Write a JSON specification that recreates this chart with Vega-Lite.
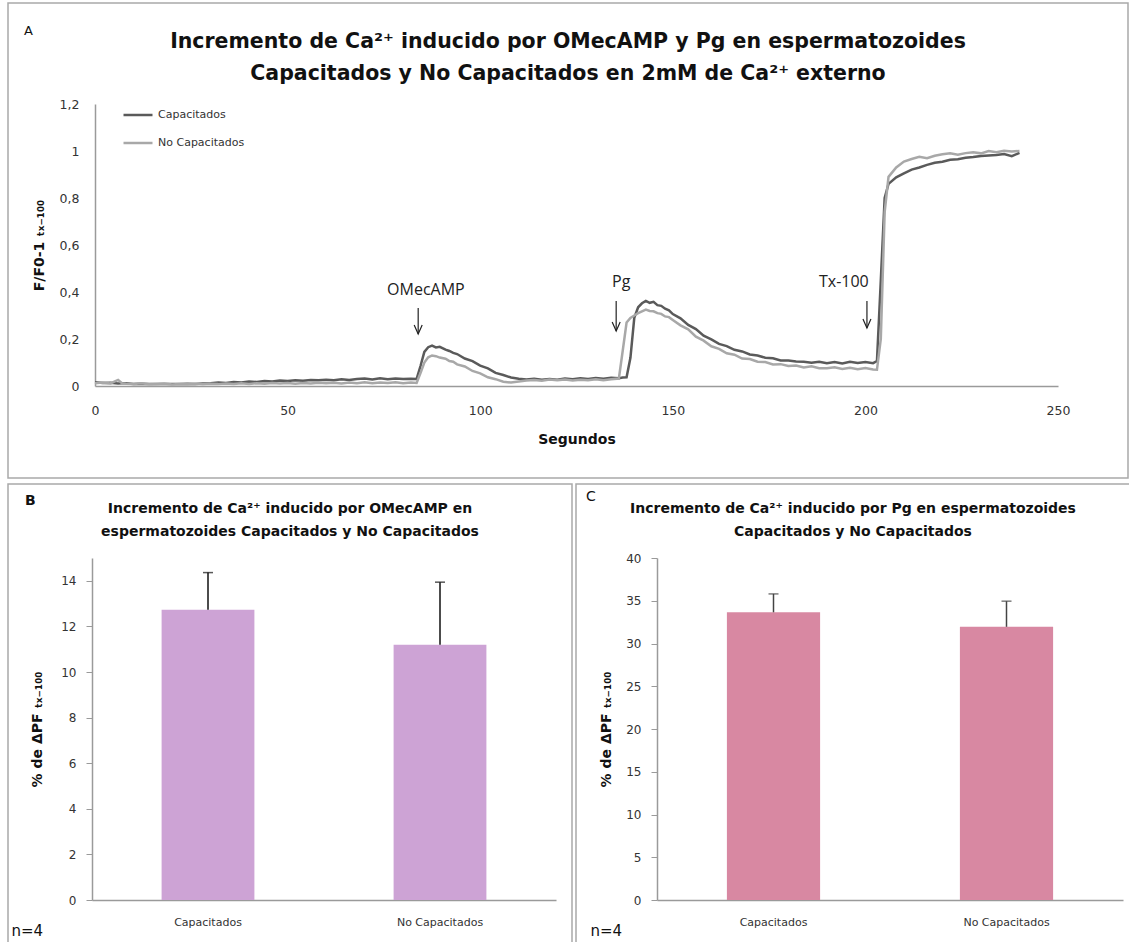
{
  "$schema": "https://vega.github.io/schema/vega-lite/v6.json",
  "padding": {"left": 7, "top": 2, "right": 0, "bottom": 0},
  "background": "white",
  "config": {
    "view": {"stroke": "#a9a9a9", "strokeWidth": 1.5},
    "font": "DejaVu Sans",
    "axis": {"grid": false, "labelFlush": false, "domainColor": "#9a9a9a", "domainWidth": 1.5, "tickColor": "#9a9a9a", "labelFont": "DejaVu Sans", "labelFontSize": 12, "labelColor": "#333333", "titleFont": "DejaVu Sans", "titleFontWeight": "bold", "titleFontSize": 14, "titleColor": "#111111"},
    "title": {"font": "DejaVu Sans", "fontWeight": "bold", "color": "#111111", "anchor": "middle", "frame": "group"}
  },
  "datasets": {
    "trazas": [
      {"t": 0, "Capacitados": 0.016, "No Capacitados": 0.012},
      {"t": 2, "Capacitados": 0.013, "No Capacitados": 0.015},
      {"t": 4, "Capacitados": 0.014, "No Capacitados": 0.011},
      {"t": 6, "Capacitados": 0.011, "No Capacitados": 0.026},
      {"t": 7, "Capacitados": 0.012, "No Capacitados": 0.012},
      {"t": 8, "Capacitados": 0.012, "No Capacitados": 0.010},
      {"t": 10, "Capacitados": 0.009, "No Capacitados": 0.009},
      {"t": 12, "Capacitados": 0.010, "No Capacitados": 0.012},
      {"t": 14, "Capacitados": 0.008, "No Capacitados": 0.007},
      {"t": 16, "Capacitados": 0.009, "No Capacitados": 0.009},
      {"t": 18, "Capacitados": 0.008, "No Capacitados": 0.011},
      {"t": 20, "Capacitados": 0.009, "No Capacitados": 0.006},
      {"t": 22, "Capacitados": 0.008, "No Capacitados": 0.008},
      {"t": 24, "Capacitados": 0.010, "No Capacitados": 0.007},
      {"t": 26, "Capacitados": 0.009, "No Capacitados": 0.010},
      {"t": 28, "Capacitados": 0.011, "No Capacitados": 0.007},
      {"t": 30, "Capacitados": 0.012, "No Capacitados": 0.010},
      {"t": 32, "Capacitados": 0.015, "No Capacitados": 0.008},
      {"t": 34, "Capacitados": 0.013, "No Capacitados": 0.011},
      {"t": 36, "Capacitados": 0.017, "No Capacitados": 0.009},
      {"t": 38, "Capacitados": 0.015, "No Capacitados": 0.012},
      {"t": 40, "Capacitados": 0.019, "No Capacitados": 0.009},
      {"t": 42, "Capacitados": 0.017, "No Capacitados": 0.012},
      {"t": 44, "Capacitados": 0.021, "No Capacitados": 0.010},
      {"t": 46, "Capacitados": 0.019, "No Capacitados": 0.013},
      {"t": 48, "Capacitados": 0.023, "No Capacitados": 0.011},
      {"t": 50, "Capacitados": 0.021, "No Capacitados": 0.013},
      {"t": 52, "Capacitados": 0.024, "No Capacitados": 0.010},
      {"t": 54, "Capacitados": 0.022, "No Capacitados": 0.013},
      {"t": 56, "Capacitados": 0.026, "No Capacitados": 0.011},
      {"t": 58, "Capacitados": 0.024, "No Capacitados": 0.014},
      {"t": 60, "Capacitados": 0.027, "No Capacitados": 0.012},
      {"t": 62, "Capacitados": 0.025, "No Capacitados": 0.014},
      {"t": 64, "Capacitados": 0.029, "No Capacitados": 0.011},
      {"t": 66, "Capacitados": 0.026, "No Capacitados": 0.015},
      {"t": 68, "Capacitados": 0.030, "No Capacitados": 0.012},
      {"t": 70, "Capacitados": 0.032, "No Capacitados": 0.016},
      {"t": 72, "Capacitados": 0.028, "No Capacitados": 0.012},
      {"t": 74, "Capacitados": 0.033, "No Capacitados": 0.015},
      {"t": 76, "Capacitados": 0.029, "No Capacitados": 0.013},
      {"t": 78, "Capacitados": 0.032, "No Capacitados": 0.016},
      {"t": 80, "Capacitados": 0.030, "No Capacitados": 0.012},
      {"t": 82, "Capacitados": 0.031, "No Capacitados": 0.015},
      {"t": 83.5, "Capacitados": 0.030, "No Capacitados": 0.013},
      {"t": 84.5, "Capacitados": 0.085, "No Capacitados": 0.055},
      {"t": 85.5, "Capacitados": 0.145, "No Capacitados": 0.100},
      {"t": 86.5, "Capacitados": 0.165, "No Capacitados": 0.122},
      {"t": 87.5, "Capacitados": 0.172, "No Capacitados": 0.130},
      {"t": 88.5, "Capacitados": 0.164, "No Capacitados": 0.127},
      {"t": 89.5, "Capacitados": 0.167, "No Capacitados": 0.121},
      {"t": 91, "Capacitados": 0.155, "No Capacitados": 0.116},
      {"t": 92, "Capacitados": 0.149, "No Capacitados": 0.106},
      {"t": 93, "Capacitados": 0.141, "No Capacitados": 0.103},
      {"t": 94, "Capacitados": 0.136, "No Capacitados": 0.092},
      {"t": 96, "Capacitados": 0.117, "No Capacitados": 0.083},
      {"t": 98, "Capacitados": 0.106, "No Capacitados": 0.064},
      {"t": 100, "Capacitados": 0.087, "No Capacitados": 0.054},
      {"t": 102, "Capacitados": 0.075, "No Capacitados": 0.037},
      {"t": 104, "Capacitados": 0.056, "No Capacitados": 0.029},
      {"t": 106, "Capacitados": 0.047, "No Capacitados": 0.018},
      {"t": 108, "Capacitados": 0.036, "No Capacitados": 0.015},
      {"t": 110, "Capacitados": 0.031, "No Capacitados": 0.019},
      {"t": 112, "Capacitados": 0.028, "No Capacitados": 0.023},
      {"t": 114, "Capacitados": 0.031, "No Capacitados": 0.026},
      {"t": 116, "Capacitados": 0.027, "No Capacitados": 0.022},
      {"t": 118, "Capacitados": 0.030, "No Capacitados": 0.028},
      {"t": 120, "Capacitados": 0.027, "No Capacitados": 0.024},
      {"t": 122, "Capacitados": 0.032, "No Capacitados": 0.028},
      {"t": 124, "Capacitados": 0.029, "No Capacitados": 0.023},
      {"t": 126, "Capacitados": 0.033, "No Capacitados": 0.027},
      {"t": 128, "Capacitados": 0.030, "No Capacitados": 0.024},
      {"t": 130, "Capacitados": 0.034, "No Capacitados": 0.029},
      {"t": 132, "Capacitados": 0.031, "No Capacitados": 0.025},
      {"t": 134, "Capacitados": 0.035, "No Capacitados": 0.029},
      {"t": 136, "Capacitados": 0.033, "No Capacitados": 0.032},
      {"t": 137, "Capacitados": 0.036, "No Capacitados": 0.150},
      {"t": 138, "Capacitados": 0.037, "No Capacitados": 0.270},
      {"t": 139, "Capacitados": 0.120, "No Capacitados": 0.290},
      {"t": 140, "Capacitados": 0.290, "No Capacitados": 0.300},
      {"t": 141, "Capacitados": 0.335, "No Capacitados": 0.310},
      {"t": 142, "Capacitados": 0.352, "No Capacitados": 0.318},
      {"t": 143, "Capacitados": 0.362, "No Capacitados": 0.325},
      {"t": 144, "Capacitados": 0.354, "No Capacitados": 0.319},
      {"t": 145, "Capacitados": 0.358, "No Capacitados": 0.318},
      {"t": 146, "Capacitados": 0.344, "No Capacitados": 0.310},
      {"t": 147, "Capacitados": 0.341, "No Capacitados": 0.307},
      {"t": 148, "Capacitados": 0.329, "No Capacitados": 0.296},
      {"t": 149, "Capacitados": 0.322, "No Capacitados": 0.293},
      {"t": 150, "Capacitados": 0.306, "No Capacitados": 0.281},
      {"t": 152, "Capacitados": 0.288, "No Capacitados": 0.258},
      {"t": 154, "Capacitados": 0.260, "No Capacitados": 0.241},
      {"t": 156, "Capacitados": 0.242, "No Capacitados": 0.210},
      {"t": 158, "Capacitados": 0.214, "No Capacitados": 0.193},
      {"t": 160, "Capacitados": 0.198, "No Capacitados": 0.169},
      {"t": 162, "Capacitados": 0.179, "No Capacitados": 0.158},
      {"t": 164, "Capacitados": 0.170, "No Capacitados": 0.139},
      {"t": 166, "Capacitados": 0.154, "No Capacitados": 0.133},
      {"t": 168, "Capacitados": 0.147, "No Capacitados": 0.117},
      {"t": 170, "Capacitados": 0.134, "No Capacitados": 0.115},
      {"t": 172, "Capacitados": 0.130, "No Capacitados": 0.103},
      {"t": 174, "Capacitados": 0.120, "No Capacitados": 0.102},
      {"t": 176, "Capacitados": 0.118, "No Capacitados": 0.092},
      {"t": 178, "Capacitados": 0.109, "No Capacitados": 0.093},
      {"t": 180, "Capacitados": 0.108, "No Capacitados": 0.085},
      {"t": 182, "Capacitados": 0.104, "No Capacitados": 0.087},
      {"t": 184, "Capacitados": 0.103, "No Capacitados": 0.079},
      {"t": 186, "Capacitados": 0.099, "No Capacitados": 0.084},
      {"t": 188, "Capacitados": 0.103, "No Capacitados": 0.076},
      {"t": 190, "Capacitados": 0.097, "No Capacitados": 0.076},
      {"t": 192, "Capacitados": 0.102, "No Capacitados": 0.080},
      {"t": 194, "Capacitados": 0.096, "No Capacitados": 0.072},
      {"t": 196, "Capacitados": 0.103, "No Capacitados": 0.078},
      {"t": 198, "Capacitados": 0.098, "No Capacitados": 0.071},
      {"t": 200, "Capacitados": 0.102, "No Capacitados": 0.077},
      {"t": 202, "Capacitados": 0.097, "No Capacitados": 0.070},
      {"t": 203, "Capacitados": 0.106, "No Capacitados": 0.069},
      {"t": 204, "Capacitados": 0.450, "No Capacitados": 0.200},
      {"t": 205, "Capacitados": 0.800, "No Capacitados": 0.740},
      {"t": 206, "Capacitados": 0.860, "No Capacitados": 0.890},
      {"t": 208, "Capacitados": 0.888, "No Capacitados": 0.930},
      {"t": 210, "Capacitados": 0.905, "No Capacitados": 0.955},
      {"t": 212, "Capacitados": 0.921, "No Capacitados": 0.966},
      {"t": 214, "Capacitados": 0.930, "No Capacitados": 0.975},
      {"t": 216, "Capacitados": 0.941, "No Capacitados": 0.969},
      {"t": 218, "Capacitados": 0.950, "No Capacitados": 0.980},
      {"t": 220, "Capacitados": 0.954, "No Capacitados": 0.986},
      {"t": 222, "Capacitados": 0.963, "No Capacitados": 0.990},
      {"t": 224, "Capacitados": 0.965, "No Capacitados": 0.984},
      {"t": 226, "Capacitados": 0.971, "No Capacitados": 0.991},
      {"t": 228, "Capacitados": 0.974, "No Capacitados": 0.995},
      {"t": 230, "Capacitados": 0.979, "No Capacitados": 0.990},
      {"t": 232, "Capacitados": 0.981, "No Capacitados": 1.000},
      {"t": 234, "Capacitados": 0.983, "No Capacitados": 0.995},
      {"t": 236, "Capacitados": 0.987, "No Capacitados": 1.001},
      {"t": 238, "Capacitados": 0.978, "No Capacitados": 0.998},
      {"t": 240, "Capacitados": 0.992, "No Capacitados": 1.000}
    ],
    "eventos": [
      {"agente": "OMecAMP", "t": 83.9, "arriba": 0.332, "punta": 0.221, "tt": 85.9, "ty": 0.408},
      {"agente": "Pg", "t": 135.3, "arriba": 0.362, "punta": 0.234, "tt": 136.6, "ty": 0.443},
      {"agente": "Tx-100", "t": 200.4, "arriba": 0.362, "punta": 0.247, "tt": 194.4, "ty": 0.443}
    ],
    "omecamp": [
      {"grupo": "Capacitados", "media": 12.73, "superior": 14.36},
      {"grupo": "No Capacitados", "media": 11.19, "superior": 13.94}
    ],
    "pg": [
      {"grupo": "Capacitados", "media": 33.65, "superior": 35.8},
      {"grupo": "No Capacitados", "media": 31.95, "superior": 34.95}
    ]
  },
  "spacing": 4,
  "vconcat": [
    {
      "title": {"text": "A", "anchor": "start", "frame": "group", "offset": -35.5, "dx": 16, "fontSize": 13, "fontWeight": "normal", "font": "DejaVu Sans"},
      "vconcat": [
        {
          "width": 1120,
          "height": 475,
          "title": {"text": ["Incremento de Ca²⁺ inducido por OMecAMP y Pg en espermatozoides", "Capacitados y No Capacitados en 2mM de Ca²⁺ externo"], "fontSize": 20.5, "lineHeight": 32, "offset": -81},
          "layer": [
            {
              "data": {"name": "trazas"},
              "transform": [{"fold": ["Capacitados", "No Capacitados"], "as": ["serie", "valor"]}],
              "mark": {"type": "line", "strokeWidth": 2.5},
              "encoding": {
                "x": {"field": "t", "type": "quantitative", "scale": {"domain": [0, 250], "range": [87, 1050], "nice": false, "zero": false},
                  "axis": {"title": "Segundos", "values": [0, 50, 100, 150, 200, 250], "ticks": false, "tickSize": 0, "labelPadding": 18, "titlePadding": 16, "offset": -92, "labelFontSize": 12.5}},
                "y": {"field": "valor", "type": "quantitative", "scale": {"domain": [0, 1.2], "range": [383, 101], "nice": false},
                  "axis": {"title": "F/F0-1 ₜₓ₋₁₀₀", "values": [0, 0.2, 0.4, 0.6, 0.8, 1, 1.2], "labelExpr": "replace(format(datum.value, '.1~f'), '.', ',')", "ticks": false, "tickSize": 0, "labelPadding": 16, "titlePadding": 13, "offset": -87, "labelFontSize": 12.5}},
                "color": {"field": "serie", "type": "nominal", "scale": {"domain": ["Capacitados", "No Capacitados"], "range": ["#5a5a5a", "#a8a8a8"]},
                  "legend": {"title": null, "orient": "none", "legendX": 114, "legendY": 96, "symbolType": "stroke", "symbolSize": 841, "symbolStrokeWidth": 2.5, "labelFont": "DejaVu Sans", "labelFontSize": 11, "labelColor": "#333333", "labelOffset": 4, "rowPadding": 7, "padding": 0}}
              }
            },
            {
              "data": {"name": "eventos"},
              "layer": [
                {"mark": {"type": "rule", "color": "#222222", "strokeWidth": 1.2},
                  "encoding": {"x": {"field": "t", "type": "quantitative"}, "y": {"field": "arriba", "type": "quantitative"}, "y2": {"field": "punta"}}},
                {"mark": {"type": "point", "shape": "M -0.8 -1.8 L 0 0 L 0.8 -1.8", "filled": false, "stroke": "#222222", "strokeWidth": 1.2, "size": 100, "opacity": 1},
                  "encoding": {"x": {"field": "t", "type": "quantitative"}, "y": {"field": "punta", "type": "quantitative"}}},
                {"mark": {"type": "text", "font": "Open Sans", "fontSize": 16, "color": "#222222", "baseline": "middle"},
                  "encoding": {"x": {"field": "tt", "type": "quantitative"}, "y": {"field": "ty", "type": "quantitative"}, "text": {"field": "agente"}}}
              ]
            }
          ]
        }
      ]
    },
    {
      "spacing": 2,
      "hconcat": [
        {
          "title": {"text": "B", "anchor": "start", "frame": "group", "offset": -24.5, "dx": 17, "fontSize": 14, "fontWeight": "bold", "font": "DejaVu Sans"},
          "vconcat": [
            {
              "width": 564,
              "height": 465,
              "title": {"text": ["Incremento de Ca²⁺ inducido por OMecAMP en", "espermatozoides Capacitados y No Capacitados"], "fontSize": 14, "lineHeight": 23, "offset": -55},
              "data": {"name": "omecamp"},
              "encoding": {
                "x": {"field": "grupo", "type": "nominal", "sort": null, "scale": {"range": [84, 548], "paddingInner": 0.6, "paddingOuter": 0.3},
                  "axis": {"title": "n=4", "titleX": 3, "titleY": 30, "titleAlign": "left", "titleBaseline": "middle", "titleFontWeight": "normal", "titleFontSize": 15, "labelAngle": 0, "ticks": false, "tickSize": 0, "labelPadding": 16, "labelFontSize": 11, "offset": -49}}
              },
              "layer": [
                {"mark": {"type": "bar", "color": "#cda3d5"},
                  "encoding": {"y": {"field": "media", "type": "quantitative", "scale": {"domain": [0, 15], "range": [416, 74], "nice": false},
                    "axis": {"title": "% de ΔPF ₜₓ₋₁₀₀", "values": [0, 2, 4, 6, 8, 10, 12, 14], "tickSize": 6, "labelPadding": 10, "titlePadding": 16, "offset": -84}}}},
                {"mark": {"type": "rule", "color": "#111111", "strokeWidth": 1.5},
                  "encoding": {"y": {"field": "media", "type": "quantitative"}, "y2": {"field": "superior"}}},
                {"mark": {"type": "tick", "color": "#111111", "thickness": 1.5, "size": 10},
                  "encoding": {"y": {"field": "superior", "type": "quantitative"}}}
              ]
            }
          ]
        },
        {
          "title": {"text": "C", "anchor": "start", "frame": "group", "offset": -21, "dx": 10, "fontSize": 14, "fontWeight": "normal", "font": "DejaVu Sans"},
          "vconcat": [
            {
              "width": 554,
              "height": 465,
              "title": {"text": ["Incremento de Ca²⁺ inducido por Pg en espermatozoides", "Capacitados y No Capacitados"], "fontSize": 14, "lineHeight": 23, "offset": -55},
              "data": {"name": "pg"},
              "encoding": {
                "x": {"field": "grupo", "type": "nominal", "sort": null, "scale": {"range": [81, 547], "paddingInner": 0.6, "paddingOuter": 0.3},
                  "axis": {"title": "n=4", "titleX": 14, "titleY": 30, "titleAlign": "left", "titleBaseline": "middle", "titleFontWeight": "normal", "titleFontSize": 15, "labelAngle": 0, "ticks": false, "tickSize": 0, "labelPadding": 16, "labelFontSize": 11, "offset": -49}}
              },
              "layer": [
                {"mark": {"type": "bar", "color": "#d888a2"},
                  "encoding": {"y": {"field": "media", "type": "quantitative", "scale": {"domain": [0, 40], "range": [416, 74], "nice": false},
                    "axis": {"title": "% de ΔPF ₜₓ₋₁₀₀", "values": [0, 5, 10, 15, 20, 25, 30, 35, 40], "tickSize": 6, "labelPadding": 10, "titlePadding": 12, "offset": -81}}}},
                {"mark": {"type": "rule", "color": "#444444", "strokeWidth": 1.5},
                  "encoding": {"y": {"field": "media", "type": "quantitative"}, "y2": {"field": "superior"}}},
                {"mark": {"type": "tick", "color": "#444444", "thickness": 1.5, "size": 10},
                  "encoding": {"y": {"field": "superior", "type": "quantitative"}}}
              ]
            }
          ]
        }
      ]
    }
  ]
}
